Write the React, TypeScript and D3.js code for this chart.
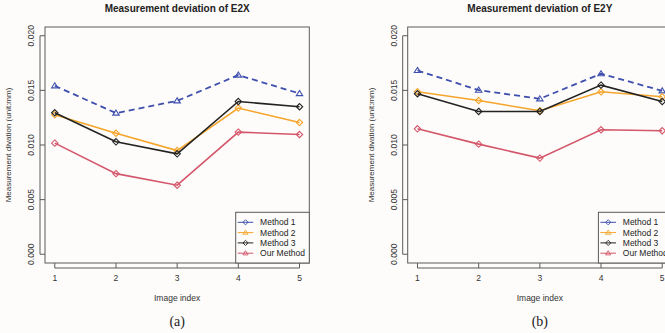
import React from 'react';
import * as d3 from 'd3';

// image index on x
const imageIndex = [1, 2, 3, 4, 5];
const yTicks = [0, 0.005, 0.01, 0.015, 0.02];

// E2X deviations
const e2xMethod1 = [0.01542, 0.01292, 0.01404, 0.0164, 0.01471];
const e2xMethod2 = [0.01276, 0.01108, 0.00949, 0.01338, 0.01206];
const e2xMethod3 = [0.01295, 0.01029, 0.00919, 0.01398, 0.0135];
const e2xOurs = [0.01017, 0.00738, 0.00632, 0.01118, 0.01096];

// E2Y deviations (right panel)
const e2yMethod1 = [0.01682, 0.01502, 0.01423, 0.01652, 0.01496];
const e2yMethod2 = [0.01487, 0.01407, 0.01313, 0.01487, 0.01441];
const e2yMethod3 = [0.01469, 0.01307, 0.01307, 0.01548, 0.01398];
const e2yOurs = [0.01148, 0.01008, 0.0088, 0.01139, 0.0113];

const legendNames = ['Method 1', 'Method 2', 'Method 3', 'Our Method'];
const colors = ['#3f4fae', '#f5a52a', '#222222', '#d4566a'];
// plot markers vs legend markers (the legend uses other symbols)
const plotShapes = ['triangle', 'diamond', 'diamond', 'diamond'];
const legendShapes = ['diamond', 'triangle', 'diamond', 'triangle'];

const sans = '"Liberation Sans", Arial, sans-serif';
const frame = '#5a5a5a';

// R-ish open symbols: square diamond, upward triangle
const symbolPath = (shape: string, r: number) => {
  if (shape === 'triangle') {
    const h = r * 1.6;
    return `M0,${-h * 0.6}L${r},${h * 0.4}L${-r},${h * 0.4}Z`;
  }
  return `M0,${-r}L${r},0L0,${r}L${-r},0Z`;
};

type PanelProps = {
  title: string;
  tag: string;
  series: number[][];
  left: number;
  right: number;
};

const Panel = ({ title, tag, series, left, right }: PanelProps) => {
  const top = 27;
  const bottom = 263;
  // R style 4% padding inside the box
  const padX = (right - left) * 0.04 / 1.08;
  const padY = (bottom - top) * 0.04 / 1.08;
  const x = d3.scaleLinear().domain([1, 5]).range([left + padX, right - padX]);
  const y = d3.scaleLinear().domain([0, 0.02]).range([bottom - padY, top + padY]);

  const line = d3.line<number>()
    .x((_, i) => x(imageIndex[i]))
    .y(d => y(d));

  const midX = (x(1) + x(5)) / 2;
  const midY = (top + bottom) / 2;

  // legend in bottom right corner
  const legW = 73.6;
  const legH = 50.7;
  const legX = right - legW;
  const legY = bottom - legH;

  return (
    <g>
      <text x={midX} y={12} textAnchor="middle" fontFamily={sans} fontSize={10} fontWeight="bold" fill="#222">
        {title}
      </text>

      {series.map((vals, s) => (
        <g key={s}>
          <path
            d={line(vals) as string}
            fill="none"
            stroke={colors[s]}
            strokeWidth={s === 0 ? 1.8 : 1.6}
            strokeDasharray={s === 0 ? '6,4' : undefined}
          />
          {vals.map((v, i) => (
            <path
              key={i}
              d={symbolPath(plotShapes[s], 3.2)}
              transform={`translate(${x(imageIndex[i])},${y(v)})`}
              fill="none"
              stroke={colors[s]}
              strokeWidth={1.1}
            />
          ))}
        </g>
      ))}

      <rect x={left} y={top} width={right - left} height={bottom - top} fill="none" stroke={frame} strokeWidth={1} />

      {/* y axis */}
      {yTicks.map(t => (
        <g key={t}>
          <line x1={left - 5} x2={left} y1={y(t)} y2={y(t)} stroke={frame} />
          <text
            transform={`translate(${left - 11},${y(t)}) rotate(-90)`}
            textAnchor="middle"
            fontFamily={sans}
            fontSize={8.5}
            fill="#333"
          >
            {d3.format('.3f')(t)}
          </text>
        </g>
      ))}
      <line x1={left - 5} x2={left - 5} y1={y(0)} y2={y(0.02)} stroke={frame} />
      <text
        transform={`translate(${left - 34},${midY}) rotate(-90)`}
        textAnchor="middle"
        fontFamily={sans}
        fontSize={8}
        fill="#333"
      >
        Measurement divation (unit:mm)
      </text>

      {/* x axis */}
      <line x1={x(1)} x2={x(5)} y1={bottom + 5} y2={bottom + 5} stroke={frame} />
      {imageIndex.map(t => (
        <g key={t}>
          <line x1={x(t)} x2={x(t)} y1={bottom} y2={bottom + 5} stroke={frame} />
          <text x={x(t)} y={281} textAnchor="middle" fontFamily={sans} fontSize={8.5} fill="#333">
            {t}
          </text>
        </g>
      ))}
      <text x={midX} y={301} textAnchor="middle" fontFamily={sans} fontSize={8.5} fill="#333">
        Image index
      </text>
      <text x={midX} y={326} textAnchor="middle" fontFamily='"Liberation Serif", "DejaVu Serif", serif' fontSize={14} fill="#222">
        {tag}
      </text>

      {/* legend */}
      <rect x={legX} y={legY} width={legW} height={legH} fill="#fdfcfa" stroke={frame} strokeWidth={1} />
      {legendNames.map((name, i) => {
        const ly = legY + 10 + i * 10.3;
        return (
          <g key={name}>
            <line x1={legX + 2} x2={legX + 17.6} y1={ly} y2={ly} stroke={colors[i]} strokeWidth={1} />
            <path
              d={symbolPath(legendShapes[i], 2.6)}
              transform={`translate(${legX + 9.8},${ly})`}
              fill="none"
              stroke={colors[i]}
              strokeWidth={0.9}
            />
            <text x={legX + 24.4} y={ly + 3} fontFamily={sans} fontSize={8.5} fill="#222">
              {name}
            </text>
          </g>
        );
      })}
    </g>
  );
};

export default function App() {
  return (
    <svg
      width={665}
      height={333}
      style={{ position: 'absolute', left: 0, top: 0, display: 'block', background: '#fdfcfa' }}
    >
      <Panel
        title="Measurement deviation of E2X"
        tag="(a)"
        series={[e2xMethod1, e2xMethod2, e2xMethod3, e2xOurs]}
        left={45}
        right={309.3}
      />
      <Panel
        title="Measurement deviation of E2Y"
        tag="(b)"
        series={[e2yMethod1, e2yMethod2, e2yMethod3, e2yOurs]}
        left={407.7}
        right={672}
      />
    </svg>
  );
}
